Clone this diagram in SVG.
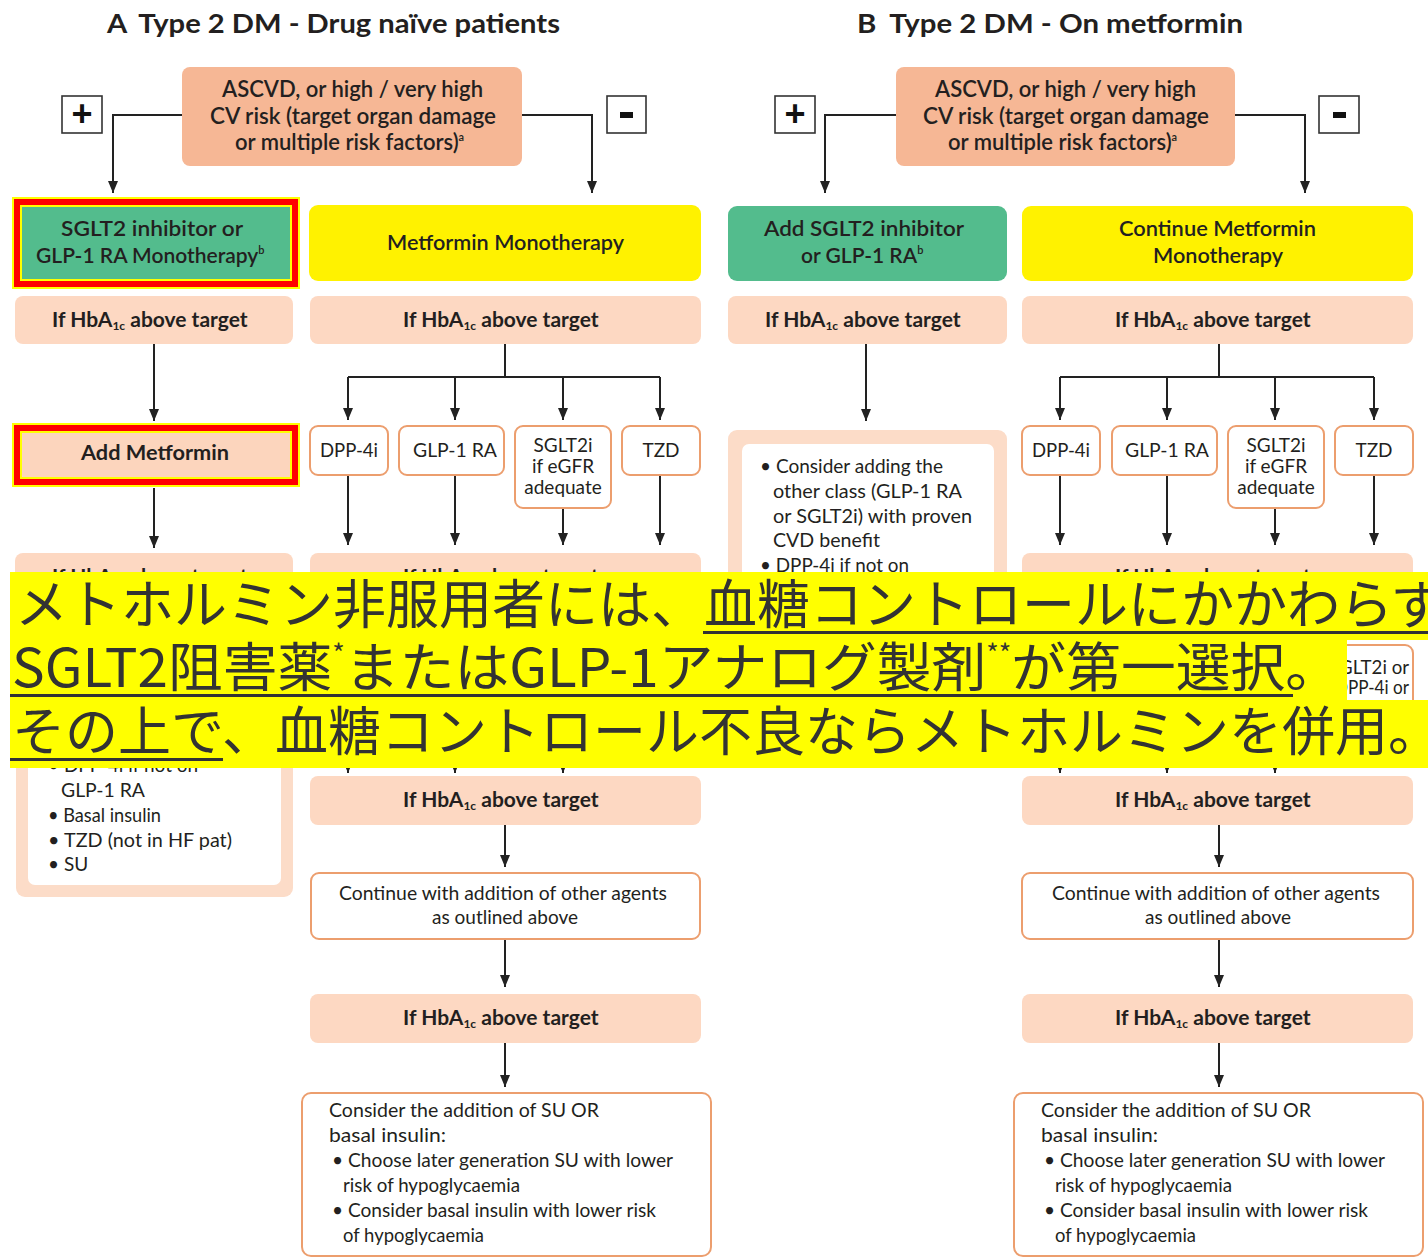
<svg xmlns="http://www.w3.org/2000/svg" width="1428" height="1258" viewBox="0 0 1428 1258">
  <defs>
    <marker id="arr" viewBox="0 0 12 10" refX="12" refY="5" markerWidth="12" markerHeight="10" markerUnits="userSpaceOnUse" orient="auto">
      <path d="M0,0 L12,5 L0,10 z" fill="#222"/>
    </marker>
    <style>
      .t { font-family: Lato, "Liberation Sans", sans-serif; fill: #231f20; }
      .b { font-weight: bold; }
      .m { font-weight: 600; }
      .ttl { font-size: 27px; font-weight: bold; }
      .s22 { font-size: 22px; }
      .s21 { font-size: 21px; }
      .s19 { font-size: 19px; }
      .sub { font-size: 12px; }
      .sup { font-size: 11px; }
      .salmon { fill: #f6b795; }
      .peach { fill: #fdd8c2; }
      .pale { fill: #fcdcc8; }
      .green { fill: #53bc8d; }
      .yel { fill: #fff200; }
      .opt { fill: #ffffff; stroke: #ec9e6e; stroke-width: 2; }
      .sign { fill: #ffffff; stroke: #333333; stroke-width: 1.6; }
      .ln { fill: none; stroke: #222222; stroke-width: 2; }
      .arw { fill: none; stroke: #222222; stroke-width: 2; marker-end: url(#arr); }
      .hl-y { fill: #ffff00; }
      .hl-r { fill: #ff0000; }
      .jp { font-family: "Noto Sans CJK JP", "Noto Sans", sans-serif; font-size: 53px; fill: #333333; }
      .ul { fill: #333333; }
    </style>
  </defs>

  <rect width="1428" height="1258" fill="#ffffff"/>

  <!-- Panel titles -->
  <text id="title-a" class="t ttl" x="107" y="33" textLength="453" lengthAdjust="spacingAndGlyphs">A<tspan dx="12">Type 2 DM - Drug naïve patients</tspan></text>
  <text id="title-b" class="t ttl" x="857" y="33" textLength="386" lengthAdjust="spacingAndGlyphs">B<tspan dx="12">Type 2 DM - On metformin</tspan></text>

  <!-- Connectors -->
  <g id="connectors">
    <!-- panel A -->
    <path class="arw" d="M182,115 H113 V193"/>
    <path class="arw" d="M522,115 H592 V193"/>
    <path class="arw" d="M154,344 V421"/>
    <path class="arw" d="M154,488 V548"/>
    <path class="ln" d="M505,344 V377 M348,377 H660"/>
    <path class="arw" d="M348,377 V420"/>
    <path class="arw" d="M455,377 V420"/>
    <path class="arw" d="M563,377 V420"/>
    <path class="arw" d="M660,377 V420"/>
    <path class="arw" d="M348,475 V545"/>
    <path class="arw" d="M455,475 V545"/>
    <path class="arw" d="M563,508 V545"/>
    <path class="arw" d="M660,475 V545"/>
    <path class="arw" d="M348,700 V773"/>
    <path class="arw" d="M455,700 V773"/>
    <path class="arw" d="M563,700 V773"/>
    <path class="arw" d="M505,825 V867"/>
    <path class="arw" d="M505,939 V987"/>
    <path class="arw" d="M505,1043 V1087"/>
    <!-- panel B -->
    <path class="arw" d="M896,115 H825 V193"/>
    <path class="arw" d="M1235,115 H1305 V193"/>
    <path class="arw" d="M866,344 V421"/>
    <path class="ln" d="M1219,344 V377 M1060,377 H1374"/>
    <path class="arw" d="M1060,377 V420"/>
    <path class="arw" d="M1167,377 V420"/>
    <path class="arw" d="M1275,377 V420"/>
    <path class="arw" d="M1374,377 V420"/>
    <path class="arw" d="M1060,475 V545"/>
    <path class="arw" d="M1167,475 V545"/>
    <path class="arw" d="M1275,508 V545"/>
    <path class="arw" d="M1374,475 V545"/>
    <path class="arw" d="M1060,700 V773"/>
    <path class="arw" d="M1167,700 V773"/>
    <path class="arw" d="M1275,700 V773"/>
    <path class="arw" d="M1219,825 V867"/>
    <path class="arw" d="M1219,939 V987"/>
    <path class="arw" d="M1219,1043 V1087"/>
  </g>

  <!-- ===== Panel A ===== -->
  <g id="a-risk">
    <rect class="salmon" x="182" y="67" width="340" height="99" rx="8"/>
    <text class="t m s22" x="222" y="97" textLength="261" lengthAdjust="spacingAndGlyphs">ASCVD, or high / very high</text>
    <text class="t m s22" x="210" y="124" textLength="286" lengthAdjust="spacingAndGlyphs">CV risk (target organ damage</text>
    <text class="t m s22" x="235" y="150">or multiple risk factors)<tspan class="sup" dy="-9">a</tspan></text>
  </g>
  <g id="a-plus">
    <rect class="sign" x="62" y="96" width="40" height="37"/>
    <text x="82" y="126" text-anchor="middle" font-family="Liberation Sans, sans-serif" font-weight="bold" font-size="36" fill="#111">+</text>
  </g>
  <g id="a-minus">
    <rect class="sign" x="607" y="96" width="39" height="37"/>
    <rect x="620" y="112" width="13" height="6" fill="#111"/>
  </g>

  <g id="a-sglt2-glp1">
    <rect class="hl-y" x="12" y="197" width="288" height="92"/>
    <rect class="hl-r" x="14" y="199" width="284" height="88"/>
    <rect class="hl-y" x="20" y="205" width="272" height="76"/>
    <rect class="green" x="22" y="207" width="268" height="72"/>
    <text class="t m s21" x="61" y="236" textLength="182" lengthAdjust="spacingAndGlyphs">SGLT2 inhibitor or</text>
    <text class="t m s21" x="36" y="263">GLP-1 RA Monotherapy<tspan class="sup" dy="-9">b</tspan></text>
  </g>

  <g id="a-metformin-mono">
    <rect class="yel" x="309" y="205" width="392" height="76" rx="9"/>
    <text class="t m s21" x="387" y="250" textLength="237" lengthAdjust="spacingAndGlyphs">Metformin Monotherapy</text>
  </g>

  <g id="a-hba1c-1l">
    <rect class="peach" x="15" y="296" width="278" height="48" rx="8"/>
    <text class="t b s21" x="52" y="327">If HbA<tspan class="sub" dy="3">1c</tspan><tspan dy="-3"> above target</tspan></text>
  </g>
  <g id="a-hba1c-1m">
    <rect class="peach" x="310" y="296" width="391" height="48" rx="8"/>
    <text class="t b s21" x="403" y="327">If HbA<tspan class="sub" dy="3">1c</tspan><tspan dy="-3"> above target</tspan></text>
  </g>

  <g id="a-add-metformin">
    <rect class="hl-y" x="12" y="423" width="288" height="64"/>
    <rect class="hl-r" x="14" y="425" width="284" height="60"/>
    <rect class="hl-y" x="20" y="431" width="272" height="48"/>
    <rect x="22" y="433" width="268" height="44" fill="#fcd5bd"/>
    <text class="t b s21" x="81" y="460" textLength="148" lengthAdjust="spacingAndGlyphs">Add Metformin</text>
  </g>

  <g id="a-dpp4i">
    <rect class="opt" x="310" y="426" width="78" height="49" rx="8"/>
    <text class="t s19" x="320" y="457" textLength="58" lengthAdjust="spacingAndGlyphs">DPP-4i</text>
  </g>
  <g id="a-glp1ra">
    <rect class="opt" x="399" y="426" width="105" height="49" rx="8"/>
    <text class="t s19" x="413" y="457" textLength="84" lengthAdjust="spacingAndGlyphs">GLP-1 RA</text>
  </g>
  <g id="a-sglt2i">
    <rect class="opt" x="515" y="426" width="96" height="82" rx="8"/>
    <text class="t s19" x="563" y="452" text-anchor="middle">SGLT2i</text>
    <text class="t s19" x="563" y="473" text-anchor="middle">if eGFR</text>
    <text class="t s19" x="563" y="494" text-anchor="middle">adequate</text>
  </g>
  <g id="a-tzd">
    <rect class="opt" x="622" y="426" width="78" height="49" rx="8"/>
    <text class="t s19" x="661" y="457" text-anchor="middle">TZD</text>
  </g>

  <g id="a-hba1c-2l">
    <rect class="peach" x="15" y="553" width="278" height="48" rx="8"/>
    <text class="t b s21" x="52" y="584">If HbA<tspan class="sub" dy="3">1c</tspan><tspan dy="-3"> above target</tspan></text>
  </g>
  <g id="a-hba1c-2m">
    <rect class="peach" x="310" y="553" width="391" height="48" rx="8"/>
    <text class="t b s21" x="403" y="584">If HbA<tspan class="sub" dy="3">1c</tspan><tspan dy="-3"> above target</tspan></text>
  </g>

  <g id="a-options">
    <rect class="pale" x="16" y="637" width="277" height="260" rx="9"/>
    <rect x="28" y="651" width="253" height="234" rx="7" fill="#ffffff"/>
    <text class="t s19" x="48" y="772">• DPP-4i if not on</text>
    <text class="t s19" x="61" y="797" textLength="84" lengthAdjust="spacingAndGlyphs">GLP-1 RA</text>
    <text class="t s19" x="48" y="822" textLength="113" lengthAdjust="spacingAndGlyphs">• Basal insulin</text>
    <text class="t s19" x="48" y="847" textLength="184" lengthAdjust="spacingAndGlyphs">• TZD (not in HF pat)</text>
    <text class="t s19" x="48" y="871">• SU</text>
  </g>

  <g id="a-hba1c-3">
    <rect class="peach" x="310" y="776" width="391" height="49" rx="8"/>
    <text class="t b s21" x="403" y="807">If HbA<tspan class="sub" dy="3">1c</tspan><tspan dy="-3"> above target</tspan></text>
  </g>
  <g id="a-continue">
    <rect class="opt" x="311" y="873" width="389" height="66" rx="8"/>
    <text class="t s19" x="339" y="900" textLength="328" lengthAdjust="spacingAndGlyphs">Continue with addition of other agents</text>
    <text class="t s19" x="432" y="924" textLength="146" lengthAdjust="spacingAndGlyphs">as outlined above</text>
  </g>
  <g id="a-hba1c-4">
    <rect class="peach" x="310" y="994" width="391" height="49" rx="8"/>
    <text class="t b s21" x="403" y="1025">If HbA<tspan class="sub" dy="3">1c</tspan><tspan dy="-3"> above target</tspan></text>
  </g>
  <g id="a-su-insulin">
    <rect class="opt" x="302" y="1093" width="409" height="163" rx="9"/>
    <text class="t s19" x="329" y="1117" textLength="270" lengthAdjust="spacingAndGlyphs">Consider the addition of SU OR</text>
    <text class="t s19" x="329" y="1142" textLength="117" lengthAdjust="spacingAndGlyphs">basal insulin:</text>
    <text class="t s19" x="332" y="1167" textLength="341" lengthAdjust="spacingAndGlyphs">• Choose later generation SU with lower</text>
    <text class="t s19" x="343" y="1192" textLength="177" lengthAdjust="spacingAndGlyphs">risk of hypoglycaemia</text>
    <text class="t s19" x="332" y="1217" textLength="324" lengthAdjust="spacingAndGlyphs">• Consider basal insulin with lower risk</text>
    <text class="t s19" x="343" y="1242" textLength="141" lengthAdjust="spacingAndGlyphs">of hypoglycaemia</text>
  </g>

  <!-- ===== Panel B ===== -->
  <g id="b-risk">
    <rect class="salmon" x="896" y="67" width="339" height="99" rx="8"/>
    <text class="t m s22" x="935" y="97" textLength="261" lengthAdjust="spacingAndGlyphs">ASCVD, or high / very high</text>
    <text class="t m s22" x="923" y="124" textLength="286" lengthAdjust="spacingAndGlyphs">CV risk (target organ damage</text>
    <text class="t m s22" x="948" y="150">or multiple risk factors)<tspan class="sup" dy="-9">a</tspan></text>
  </g>
  <g id="b-plus">
    <rect class="sign" x="775" y="96" width="40" height="37"/>
    <text x="795" y="126" text-anchor="middle" font-family="Liberation Sans, sans-serif" font-weight="bold" font-size="36" fill="#111">+</text>
  </g>
  <g id="b-minus">
    <rect class="sign" x="1319" y="96" width="40" height="37"/>
    <rect x="1333" y="112" width="13" height="6" fill="#111"/>
  </g>

  <g id="b-add-sglt2-glp1">
    <rect class="green" x="728" y="206" width="279" height="75" rx="9"/>
    <text class="t m s21" x="764" y="236" textLength="200" lengthAdjust="spacingAndGlyphs">Add SGLT2 inhibitor</text>
    <text class="t m s21" x="801" y="263">or GLP-1 RA<tspan class="sup" dy="-9">b</tspan></text>
  </g>
  <g id="b-continue-mono">
    <rect class="yel" x="1022" y="206" width="391" height="75" rx="9"/>
    <text class="t m s21" x="1119" y="236" textLength="197" lengthAdjust="spacingAndGlyphs">Continue Metformin</text>
    <text class="t m s21" x="1153" y="263" textLength="130" lengthAdjust="spacingAndGlyphs">Monotherapy</text>
  </g>

  <g id="b-hba1c-1l">
    <rect class="peach" x="728" y="296" width="279" height="48" rx="8"/>
    <text class="t b s21" x="765" y="327">If HbA<tspan class="sub" dy="3">1c</tspan><tspan dy="-3"> above target</tspan></text>
  </g>
  <g id="b-hba1c-1r">
    <rect class="peach" x="1022" y="296" width="391" height="48" rx="8"/>
    <text class="t b s21" x="1115" y="327">If HbA<tspan class="sub" dy="3">1c</tspan><tspan dy="-3"> above target</tspan></text>
  </g>

  <g id="b-options">
    <rect class="pale" x="728" y="430" width="279" height="332" rx="9"/>
    <rect x="742" y="444" width="252" height="306" rx="7" fill="#ffffff"/>
    <text class="t s19" x="760" y="473" textLength="183" lengthAdjust="spacingAndGlyphs">• Consider adding the</text>
    <text class="t s19" x="773" y="498" textLength="189" lengthAdjust="spacingAndGlyphs">other class (GLP-1 RA</text>
    <text class="t s19" x="773" y="523" textLength="199" lengthAdjust="spacingAndGlyphs">or SGLT2i) with proven</text>
    <text class="t s19" x="773" y="547" textLength="107" lengthAdjust="spacingAndGlyphs">CVD benefit</text>
    <text class="t s19" x="760" y="572" textLength="149" lengthAdjust="spacingAndGlyphs">• DPP-4i if not on</text>
  </g>

  <g id="b-dpp4i">
    <rect class="opt" x="1022" y="426" width="78" height="49" rx="8"/>
    <text class="t s19" x="1032" y="457" textLength="58" lengthAdjust="spacingAndGlyphs">DPP-4i</text>
  </g>
  <g id="b-glp1ra">
    <rect class="opt" x="1112" y="426" width="105" height="49" rx="8"/>
    <text class="t s19" x="1125" y="457" textLength="84" lengthAdjust="spacingAndGlyphs">GLP-1 RA</text>
  </g>
  <g id="b-sglt2i">
    <rect class="opt" x="1228" y="426" width="96" height="82" rx="8"/>
    <text class="t s19" x="1276" y="452" text-anchor="middle">SGLT2i</text>
    <text class="t s19" x="1276" y="473" text-anchor="middle">if eGFR</text>
    <text class="t s19" x="1276" y="494" text-anchor="middle">adequate</text>
  </g>
  <g id="b-tzd">
    <rect class="opt" x="1335" y="426" width="78" height="49" rx="8"/>
    <text class="t s19" x="1374" y="457" text-anchor="middle">TZD</text>
  </g>

  <g id="b-hba1c-2">
    <rect class="peach" x="1022" y="553" width="391" height="48" rx="8"/>
    <text class="t b s21" x="1115" y="584">If HbA<tspan class="sub" dy="3">1c</tspan><tspan dy="-3"> above target</tspan></text>
  </g>
  <g id="b-next-agent">
    <rect class="opt" x="1335" y="645" width="78" height="90" rx="8"/>
    <text class="t s19" x="1329" y="674" textLength="80" lengthAdjust="spacingAndGlyphs">SGLT2i or</text>
    <text class="t s19" x="1335" y="694" textLength="74" lengthAdjust="spacingAndGlyphs">DPP-4i or</text>
  </g>

  <g id="b-hba1c-3">
    <rect class="peach" x="1022" y="776" width="391" height="49" rx="8"/>
    <text class="t b s21" x="1115" y="807">If HbA<tspan class="sub" dy="3">1c</tspan><tspan dy="-3"> above target</tspan></text>
  </g>
  <g id="b-continue">
    <rect class="opt" x="1022" y="873" width="391" height="66" rx="8"/>
    <text class="t s19" x="1052" y="900" textLength="328" lengthAdjust="spacingAndGlyphs">Continue with addition of other agents</text>
    <text class="t s19" x="1145" y="924" textLength="146" lengthAdjust="spacingAndGlyphs">as outlined above</text>
  </g>
  <g id="b-hba1c-4">
    <rect class="peach" x="1022" y="994" width="391" height="49" rx="8"/>
    <text class="t b s21" x="1115" y="1025">If HbA<tspan class="sub" dy="3">1c</tspan><tspan dy="-3"> above target</tspan></text>
  </g>
  <g id="b-su-insulin">
    <rect class="opt" x="1014" y="1093" width="409" height="163" rx="9"/>
    <text class="t s19" x="1041" y="1117" textLength="270" lengthAdjust="spacingAndGlyphs">Consider the addition of SU OR</text>
    <text class="t s19" x="1041" y="1142" textLength="117" lengthAdjust="spacingAndGlyphs">basal insulin:</text>
    <text class="t s19" x="1044" y="1167" textLength="341" lengthAdjust="spacingAndGlyphs">• Choose later generation SU with lower</text>
    <text class="t s19" x="1055" y="1192" textLength="177" lengthAdjust="spacingAndGlyphs">risk of hypoglycaemia</text>
    <text class="t s19" x="1044" y="1217" textLength="324" lengthAdjust="spacingAndGlyphs">• Consider basal insulin with lower risk</text>
    <text class="t s19" x="1055" y="1242" textLength="141" lengthAdjust="spacingAndGlyphs">of hypoglycaemia</text>
  </g>

  <!-- Japanese annotation band laid over the middle of the chart -->
  <g id="note">
    <rect class="hl-y" x="10" y="572" width="1418" height="68"/>
    <rect class="hl-y" x="10" y="639" width="1337" height="62"/>
    <rect class="hl-y" x="10" y="700" width="1418" height="68"/>
    <text class="jp" x="15" y="624">メトホルミン非服用者には、血糖コントロールにかかわらず</text>
    <text class="jp" x="12" y="687" textLength="1328" lengthAdjust="spacingAndGlyphs">SGLT2阻害薬<tspan font-size="26" dy="-24">*</tspan><tspan dy="24">またはGLP-1アナログ製剤</tspan><tspan font-size="26" dy="-24">**</tspan><tspan dy="24">が第一選択。</tspan></text>
    <text class="jp" x="12" y="751">その上で、血糖コントロール不良ならメトホルミンを併用。</text>
    <rect class="ul" x="703" y="631" width="725" height="3"/>
    <rect class="ul" x="10" y="694" width="1283" height="3"/>
    <rect class="ul" x="10" y="758" width="213" height="3"/>
  </g>
</svg>
